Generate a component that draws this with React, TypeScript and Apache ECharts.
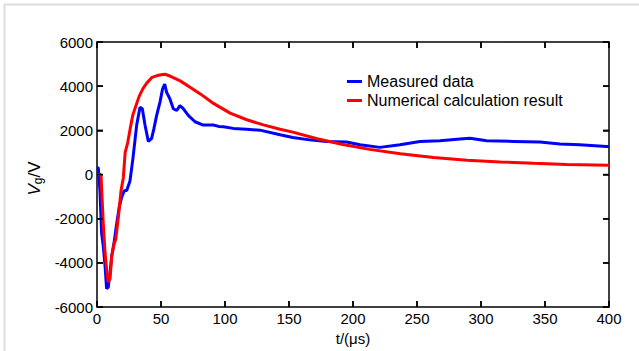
import React, { useEffect, useRef } from "react";
import * as echarts from "echarts";

const xTicks = { min: 0, max: 400, interval: 50 };
const yTicks = { min: -6000, max: 6000, interval: 2000 };

const seriesNames = ["Measured data", "Numerical calculation result"];

const measuredT = [0, 1, 2.3, 3.6, 4.9, 6.3, 7.5, 8.8, 10.2, 11.5, 13.5, 15.4, 17.4, 19.3, 21.3, 23.2, 25.8, 28, 31, 33.6, 35.4, 37.5, 40.1, 42.7, 44.5, 46.6, 49.2, 51.2, 52.9, 54.4, 57, 59.6, 62.3, 64.8, 67.4, 71.3, 76.6, 83, 90.9, 95, 98.7, 106.5, 116.9, 127.3, 143, 153, 166, 179.4, 195, 205.5, 221, 236.7, 252.3, 268, 283.6, 291.4, 304.4, 325.3, 346, 361.7, 377, 398, 400];
const measuredV = [300, 310, -720, -2650, -3240, -4130, -5170, -5100, -4430, -3690, -3020, -2210, -1470, -1020, -730, -720, -280, 700, 2240, 3050, 2980, 2240, 1500, 1640, 2090, 2680, 3280, 3870, 4090, 3720, 3420, 2980, 2900, 3120, 2980, 2680, 2390, 2240, 2240, 2180, 2160, 2090, 2050, 2010, 1800, 1680, 1570, 1500, 1470, 1350, 1230, 1350, 1500, 1530, 1610, 1640, 1530, 1500, 1470, 1380, 1350, 1270, 1270];

const calcT = [0.5, 3.1, 4.9, 6.3, 7.5, 8.8, 10.2, 11.5, 13.5, 14.6, 16.7, 18.8, 20.6, 22, 24, 26, 28, 30, 33, 36, 39, 43, 47, 50, 53, 57, 65, 73, 81, 91, 104, 117, 130, 143, 153, 172, 192, 213, 237, 263, 289, 315, 341, 367, 400];
const calcV = [0, 0, -2200, -3540, -4280, -4870, -4720, -3690, -3100, -2950, -1910, -720, -130, 1000, 1450, 2100, 2700, 3050, 3550, 3900, 4150, 4400, 4480, 4520, 4540, 4460, 4240, 3940, 3640, 3220, 2780, 2480, 2250, 2050, 1920, 1620, 1360, 1140, 940, 770, 650, 570, 510, 460, 420];

const FONT = "'Liberation Sans', Arial, Helvetica, sans-serif";
const TICK_LEN = 6;

function tickValues(t: { min: number; max: number; interval: number }) {
  const out: number[] = [];
  for (let v = t.min; v <= t.max + 1e-9; v += t.interval) out.push(v);
  return out;
}

export default function App() {
  const ref = useRef<HTMLDivElement>(null);
  useEffect(() => {
    document.body.style.margin = "0";
    if (!ref.current) return;
    const chart = echarts.init(ref.current, undefined, { renderer: "svg" });
    const axisLine = () => ({ show: true, onZero: false, lineStyle: { color: "#000", width: 1.5 } });
    const axisTick = () => ({ show: true, inside: true, length: TICK_LEN, lineStyle: { color: "#000", width: 1.5 } });
    const tickLabel = { color: "#000", fontSize: 15, fontFamily: FONT, formatter: (v: number) => String(v) };
    const tickStyle = { stroke: "#000", lineWidth: 1.5, fill: "none" };

    const xTickSeries = {
      type: "custom",
      silent: true,
      clip: false,
      z: 10,
      xAxisIndex: 0,
      yAxisIndex: 0,
      encode: { x: 0, y: 1 },
      data: tickValues(xTicks).map((v) => [v, yTicks.min]),
      renderItem: (_p: any, api: any) => {
        const v = api.value(0);
        const b = api.coord([v, yTicks.min]);
        const t = api.coord([v, yTicks.max]);
        return {
          type: "group",
          children: [
            { type: "line", shape: { x1: b[0], y1: b[1], x2: b[0], y2: b[1] - TICK_LEN }, style: tickStyle },
            { type: "line", shape: { x1: t[0], y1: t[1], x2: t[0], y2: t[1] + TICK_LEN }, style: tickStyle },
          ],
        };
      },
    };
    const yTickSeries = {
      type: "custom",
      silent: true,
      clip: false,
      z: 10,
      xAxisIndex: 0,
      yAxisIndex: 0,
      encode: { x: 0, y: 1 },
      data: tickValues(yTicks).map((v) => [xTicks.min, v]),
      renderItem: (_p: any, api: any) => {
        const v = api.value(1);
        const l = api.coord([xTicks.min, v]);
        const r = api.coord([xTicks.max, v]);
        return {
          type: "group",
          children: [
            { type: "line", shape: { x1: l[0], y1: l[1], x2: l[0] + TICK_LEN, y2: l[1] }, style: tickStyle },
            { type: "line", shape: { x1: r[0], y1: r[1], x2: r[0] - TICK_LEN, y2: r[1] }, style: tickStyle },
          ],
        };
      },
    };

    chart.setOption({
      animation: false,
      backgroundColor: "#fff",
      textStyle: { fontFamily: FONT },
      graphic: [
        {
          type: "rect",
          shape: { x: 4.5, y: 4.5, width: 800, height: 500 },
          style: { fill: "none", stroke: "#dedede", lineWidth: 2 },
          silent: true,
        },
      ],
      grid: { left: 97, right: 30, top: 42, bottom: 39, containLabel: false },
      legend: {
        orient: "vertical",
        left: 347,
        top: 72,
        padding: 0,
        itemGap: 0,
        itemWidth: 15,
        itemHeight: 3,
        icon: "rect",
        textStyle: { fontSize: 16, color: "#000", fontFamily: FONT, lineHeight: 19 },
        data: seriesNames,
      },
      xAxis: [
        {
          type: "value",
          position: "bottom",
          ...xTicks,
          axisLine: axisLine(),
          axisTick: axisTick(),
          splitLine: { show: false },
          axisLabel: { ...tickLabel, margin: 4, showMaxLabel: true, showMinLabel: true },
          name: "t/(\u03bcs)",
          nameLocation: "middle",
          nameGap: 18,
          nameTextStyle: { color: "#000", fontSize: 15, fontFamily: FONT },
        },
        {
          type: "value",
          position: "top",
          ...xTicks,
          axisLine: axisLine(),
          axisTick: axisTick(),
          splitLine: { show: false },
          axisLabel: { show: false },
        },
      ],
      yAxis: [
        {
          type: "value",
          position: "left",
          ...yTicks,
          axisLine: axisLine(),
          axisTick: axisTick(),
          splitLine: { show: false },
          axisLabel: { ...tickLabel, margin: 4 },
          name: "{v|V}{g|g}{n|/V}",
          nameLocation: "middle",
          nameRotate: 90,
          nameGap: 50,
          nameTextStyle: {
            color: "#000",
            fontFamily: FONT,
            padding: [0, 8, 0, 0],
            rich: {
              v: { fontSize: 17, fontStyle: "italic", fontFamily: FONT, color: "#000", lineHeight: 18, verticalAlign: "top" },
              g: { fontSize: 12, fontFamily: FONT, color: "#000", verticalAlign: "bottom", lineHeight: 12, padding: [10, 0, 0, 0] },
              n: { fontSize: 17, fontFamily: FONT, color: "#000", lineHeight: 18, verticalAlign: "top" },
            },
          },
        },
        {
          type: "value",
          position: "right",
          ...yTicks,
          axisLine: axisLine(),
          axisTick: axisTick(),
          splitLine: { show: false },
          axisLabel: { show: false },
        },
      ],
      series: [
        {
          name: seriesNames[0],
          type: "line",
          showSymbol: false,
          symbol: "none",
          color: "#0000ff",
          lineStyle: { color: "#0000ff", width: 3 },
          data: measuredT.map((t, i) => [t, measuredV[i]]),
          z: 2,
        },
        {
          name: seriesNames[1],
          type: "line",
          showSymbol: false,
          symbol: "none",
          color: "#ff0000",
          lineStyle: { color: "#ff0000", width: 3 },
          data: calcT.map((t, i) => [t, calcV[i]]),
          z: 3,
        },
        xTickSeries,
        yTickSeries,
      ],
    });

    return () => chart.dispose();
  }, []);
  return <div ref={ref} style={{ width: 639, height: 351 }} />;
}
